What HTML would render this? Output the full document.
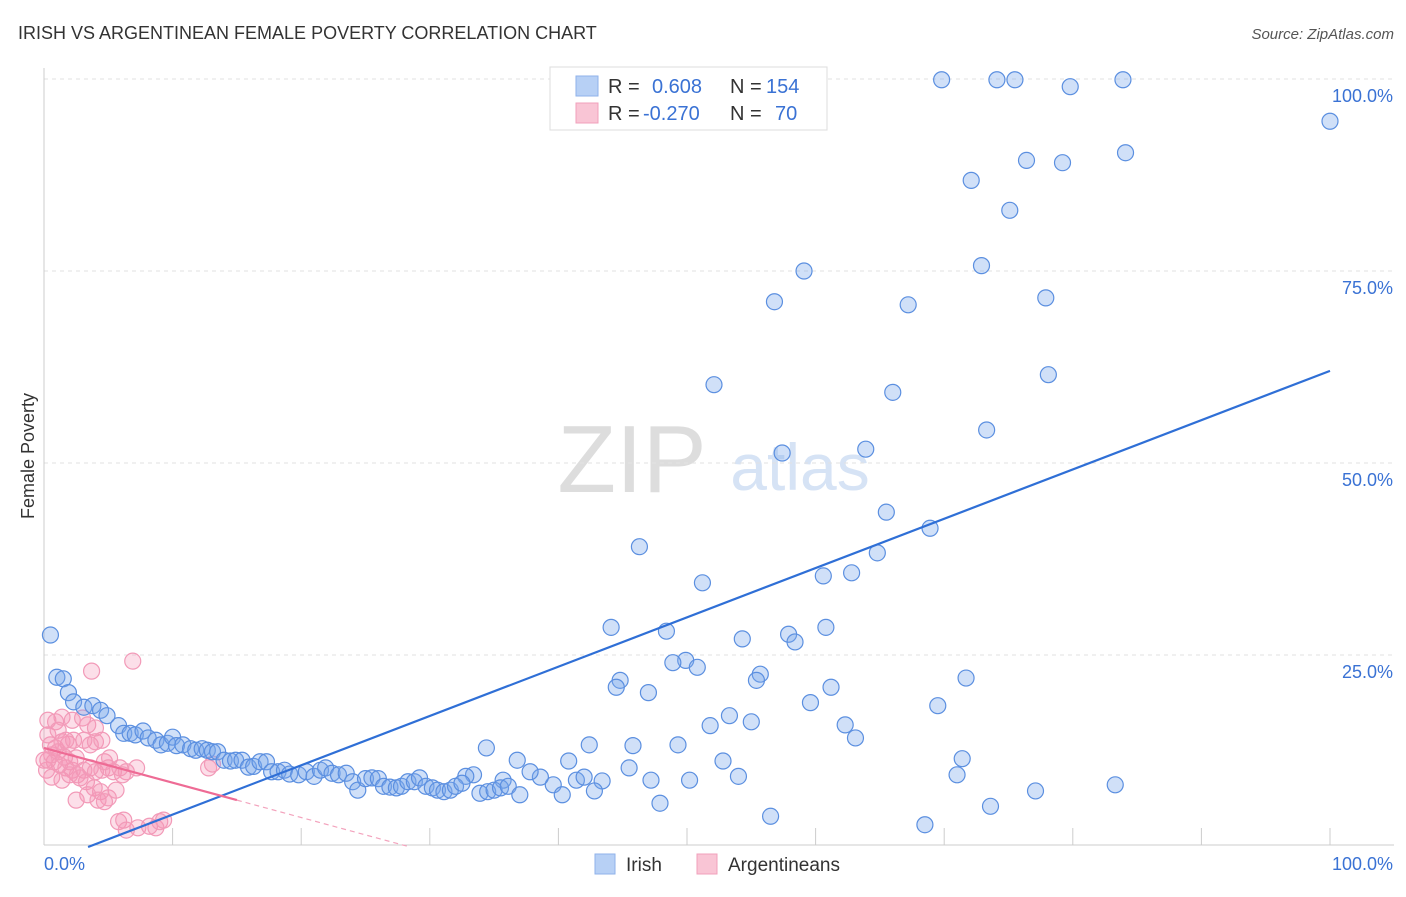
<!DOCTYPE html>
<html><head><meta charset="utf-8">
<style>
body{margin:0;background:#fff;font-family:"Liberation Sans",sans-serif;}
svg text{font-family:"Liberation Sans",sans-serif;}
</style></head>
<body>
<svg id="chart" width="1406" height="892" xmlns="http://www.w3.org/2000/svg">
<text x="18" y="39" font-size="18" fill="#333">IRISH VS ARGENTINEAN FEMALE POVERTY CORRELATION CHART</text>
<text x="1394" y="39" font-size="15" fill="#555" font-style="italic" text-anchor="end">Source: ZipAtlas.com</text>
<text x="34" y="456" font-size="18" fill="#333" transform="rotate(-90 34 456)" text-anchor="middle">Female Poverty</text>
<text x="632" y="492" font-size="96" fill="#ddd" font-family="Liberation Serif" text-anchor="middle">ZIP</text>
<text x="800" y="490" font-size="66" fill="#d6e3f5" text-anchor="middle">atlas</text>
<g id="grid"></g><g id="pts"></g><g id="lines"></g>
<g>
<rect x="550" y="67" width="277" height="63" fill="#fff" stroke="#ddd"/>
<rect x="576" y="76" width="22" height="20" fill="#b7d0f5" stroke="#8fb2ea"/>
<rect x="576" y="103" width="22" height="20" fill="#f9c5d5" stroke="#f1a0bb"/>
<text x="608" y="93" font-size="20" fill="#333">R =</text><text x="652" y="93" font-size="20" fill="#3a72d4">0.608</text>
<text x="730" y="93" font-size="20" fill="#333">N =</text><text x="766" y="93" font-size="20" fill="#3a72d4">154</text>
<text x="608" y="120" font-size="20" fill="#333">R =</text><text x="643" y="120" font-size="20" fill="#3a72d4">-0.270</text>
<text x="730" y="120" font-size="20" fill="#333">N =</text><text x="775" y="120" font-size="20" fill="#3a72d4">70</text>
</g>
<g>
<rect x="595" y="854" width="20" height="20" fill="#b7d0f5" stroke="#8fb2ea"/>
<text x="626" y="871" font-size="19" fill="#333">Irish</text>
<rect x="697" y="854" width="20" height="20" fill="#f9c5d5" stroke="#f1a0bb"/>
<text x="728" y="871" font-size="19" fill="#333">Argentineans</text>
</g>
</svg>
<script>
const irishX=[69.8,74.1,75.5,83.9,79.8,100,76.4,79.2,84.1,72.1,75.1,59.1,72.9,56.8,67.2,77.9,52.1,78.1,66.0,73.3,63.9,57.4,65.5,68.9,46.3,64.8,60.6,62.8,51.2,44.1,48.4,60.8,57.9,54.3,58.4,49.9,48.9,50.8,44.8,44.5,55.7,55.4,47.0,61.2,71.7,59.6,69.5,53.3,51.8,55.0,62.3,63.1,34.4,42.4,45.8,49.3,36.8,40.8,71.4,52.8,45.5,54.0,71.0,83.3,50.2,47.2,43.4,41.4,42.0,39.6,38.6,37.8,33.4,32.8,35.7,77.1,73.6,47.9,56.5,68.5,42.8,40.3,
0.5,1.0,1.5,1.9,2.3,3.1,3.8,4.4,4.9,5.8,6.2,6.7,7.1,7.7,8.1,8.7,9.1,9.6,10.0,10.3,10.8,11.4,11.8,12.3,12.7,13.1,13.5,14.0,14.5,14.9,15.4,15.9,16.3,16.8,17.3,17.7,18.2,18.7,19.1,19.8,20.4,21.0,21.5,21.9,22.4,22.9,23.5,24.0,24.4,25.0,25.5,26.0,26.4,26.9,27.4,27.8,28.3,28.8,29.2,29.7,30.2,30.6,31.1,31.6,32.0,32.5,33.9,34.5,35.0,35.5,36.1,37.0];
const irishY=[99.9,99.9,99.9,99.9,99.0,94.5,89.4,89.1,90.4,86.8,82.9,75.0,75.7,71.0,70.6,71.5,60.2,61.5,59.2,54.3,51.8,51.3,43.6,41.5,39.1,38.3,35.3,35.7,34.4,28.6,28.1,28.6,27.7,27.1,26.7,24.3,24.0,23.4,21.7,20.8,22.5,21.7,20.1,20.8,22.0,18.8,18.4,17.1,15.8,16.3,15.9,14.2,12.9,13.3,13.2,13.3,11.3,11.2,11.5,11.2,10.3,9.2,9.4,8.1,8.7,8.7,8.6,8.7,9.1,8.1,9.1,9.8,9.4,9.2,8.7,7.3,5.3,5.7,4.0,2.9,7.3,6.8,
27.6,22.1,21.9,20.1,18.9,18.2,18.4,17.8,17.1,15.8,14.8,14.8,14.6,15.1,14.2,13.9,13.3,13.5,14.3,13.2,13.3,12.8,12.6,12.8,12.6,12.4,12.4,11.3,11.2,11.3,11.3,10.4,10.5,11.1,11.1,9.8,9.8,10.0,9.5,9.4,9.8,9.2,10.0,10.3,9.6,9.4,9.6,8.5,7.4,8.9,9.0,8.9,7.9,7.8,7.7,7.9,8.5,8.5,9.0,7.9,7.7,7.4,7.2,7.4,7.9,8.3,7.0,7.2,7.4,7.7,7.9,6.8];
const argX=[3.7,6.9,0.3,0.9,1.4,2.2,3.0,3.4,4.0,0.5,0.9,1.4,1.9,2.3,0.3,0.8,1.2,1.7,2.2,2.6,3.1,3.6,4.0,4.5,5.0,5.4,5.9,6.4,7.2,0.6,1.1,1.6,2.0,2.5,2.8,3.3,3.9,4.4,5.0,5.6,4.7,5.1,6.1,12.8,13.1,2.5,3.4,4.2,4.7,5.8,6.2,6.4,7.3,8.2,8.7,9.0,9.3,0.3,1.1,1.7,3.1,3.6,4.0,4.5,0.2,0.6,1.4,2.0,0.0];
const argY=[22.9,24.2,16.5,16.3,16.9,16.5,16.8,15.9,15.5,13.3,12.9,13.7,13.4,13.9,11.3,11.1,10.7,10.3,10.0,9.4,10.0,10.3,9.8,10.0,10.3,9.8,10.3,9.8,10.3,12.0,12.4,11.7,11.1,11.6,9.0,8.5,7.7,7.2,6.4,7.4,11.1,11.6,9.4,10.3,10.8,6.1,6.8,6.1,5.9,3.3,3.5,2.2,2.5,2.7,2.5,3.3,3.5,14.6,15.2,13.9,13.9,13.3,13.7,13.9,10.0,9.1,8.7,9.4,11.3];
const yTicks=[25,50,75,100];
const xTickVals=[0,10,20,30,40,50,60,70,80,90,100];
const irishTrend=[-2.2,62.0];
const argTrend=[12.9,-0.453];
const NS='http://www.w3.org/2000/svg';
const sx=v=>44+v*12.86, sy=v=>847-v*7.68;
function mk(tag,attrs,parent){const e=document.createElementNS(NS,tag);for(const k in attrs)e.setAttribute(k,attrs[k]);parent.appendChild(e);return e;}
const grid=document.getElementById('grid'),pts=document.getElementById('pts'),lines=document.getElementById('lines');
yTicks.forEach(t=>{
 const l=mk('line',{x1:44,x2:1394,y1:sy(t),y2:sy(t),stroke:'#e2e2e2','stroke-dasharray':'4 4'},grid);
 
 
 const tx=mk('text',{x:1393,y:sy(t)+23,'font-size':18,fill:'#3a72d4','text-anchor':'end'},grid);tx.textContent=t.toFixed(1)+'%';
 
 
});
const ax=mk('line',{x1:44,x2:1394,y1:845,y2:845,stroke:'#ccc'},grid);


const ay=mk('line',{x1:44,x2:44,y1:68,y2:845,stroke:'#ccc'},grid);


xTickVals.forEach(t=>{
 const l=mk('line',{x1:sx(t),x2:sx(t),y1:828,y2:845,stroke:'#ccc'},grid);
 
 
});
[['0.0%',44,'start'],['100.0%',1393,'end']].forEach(a=>{
 const tx=mk('text',{x:a[1],y:870,'font-size':18,fill:'#3a72d4','text-anchor':a[2]},grid);tx.textContent=a[0];
 
 
});
argX.forEach((x,i)=>{
 const c=mk('circle',{cx:sx(x),cy:sy(argY[i]),r:8,fill:'rgba(244,150,182,0.3)',stroke:'#f29ab8','stroke-width':1.2},pts);
 
 
});
irishX.forEach((x,i)=>{
 const c=mk('circle',{cx:sx(x),cy:sy(irishY[i]),r:8,fill:'rgba(120,165,235,0.35)',stroke:'#5b8fe0','stroke-width':1.2},pts);
 
 
});
const x0=-irishTrend[0]/((irishTrend[1]-irishTrend[0])/100);
const bl=mk('line',{x1:sx(x0),y1:sy(0),x2:sx(100),y2:sy(irishTrend[1]),stroke:'#2f6fd6','stroke-width':2.2},lines);


const af=x=>argTrend[0]+argTrend[1]*x;
const pl=mk('line',{x1:sx(0),y1:sy(af(0)),x2:sx(15),y2:sy(af(15)),stroke:'#ee6b95','stroke-width':2.2},lines);


const xe=-argTrend[0]/argTrend[1];
const pd=mk('line',{x1:sx(15),y1:sy(af(15)),x2:sx(xe),y2:sy(0),stroke:'#f3a3bd','stroke-width':1.2,'stroke-dasharray':'5 4'},lines);


</script>
</body></html>
